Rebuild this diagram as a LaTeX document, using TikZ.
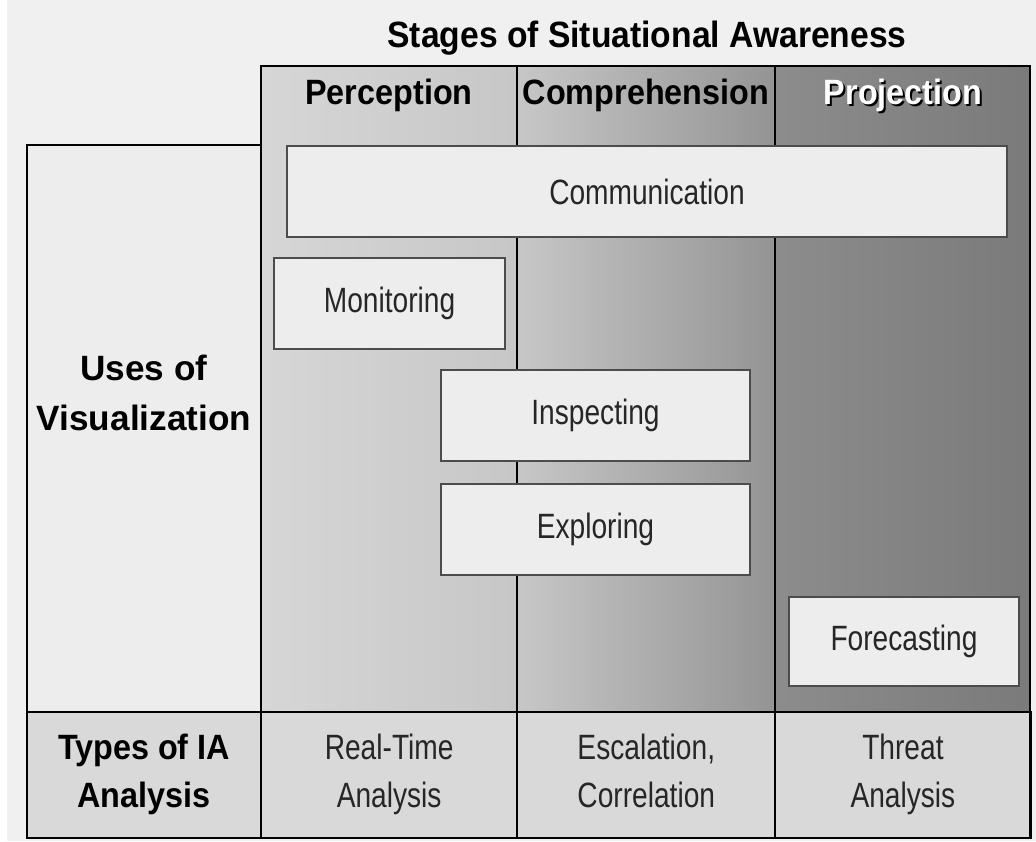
\documentclass[tikz,border=0pt]{standalone}
\usepackage{fontspec}
\setmainfont{Liberation Sans}
\newfontfamily\headfont[FakeStretch=0.92]{Liberation Sans}
\newfontfamily\narrowfont[FakeStretch=0.8]{Liberation Sans}
\usepackage{tikz}
\usetikzlibrary{positioning}

\begin{document}
\begin{tikzpicture}[
  x=0.01cm,y=-0.01cm,
  colbox/.style={rectangle,inner sep=0pt,outer sep=0pt,minimum height=6.46cm},
  usebox/.style={rectangle,draw=black!70,fill=black!7,line width=0.5pt,minimum height=0.91cm,
    text=black!85,font=\narrowfont\fontsize{10}{13}\selectfont},
  cell/.style={rectangle,draw,line width=0.6pt,inner sep=0pt,outer sep=0pt,fill=black!15,
    align=center,minimum height=1.26cm,text height=20.6pt,text depth=2.4pt,
    text=black!85,font=\narrowfont\fontsize{10}{13.4}\selectfont},
  head/.style={align=center,font=\headfont\bfseries\fontsize{10}{13.4}\selectfont}]

  \useasboundingbox (0,0) rectangle (1036,841);
  \fill[white] (0,0) rectangle (1036,841);
  \fill[black!6] (7,0) rectangle (1036,841);

  % stage columns
  \node[colbox,minimum width=2.56cm,left color=black!16,right color=black!22] (perc) at (389,389) {};
  \node[colbox,minimum width=2.58cm,left color=black!22,right color=black!42] (comp) at (646,389) {};
  \node[colbox,minimum width=2.55cm,left color=black!45,right color=black!52] (proj) at (902.5,389) {};
  \draw[line width=0.6pt] (perc.north west) rectangle (proj.south east);
  \draw[line width=0.6pt] (perc.north east) -- (perc.south east);
  \draw[line width=0.6pt] (comp.north east) -- (comp.south east);

  \node[head,font=\headfont\bfseries\fontsize{10.4}{13.4}\selectfont] (title) at (647,38) {Stages of Situational Awareness};
  \node[head] (perclabel) at (389,95) {Perception};
  \node[head] (complabel) at (646,95) {Comprehension};
  \node[head,text=black] (projshadow) at (905,97) {Projection};
  \node[head,text=white] (projlabel) at (903,95) {Projection};

  % uses of visualization
  \node[cell,fill=black!7,minimum width=2.34cm,minimum height=5.67cm] (uses) at (144,428.5) {};
  \node[align=center,font=\bfseries\fontsize{10}{14.2}\selectfont] (useslabel) at (144,393) {Uses of\\Visualization};

  \node[usebox,minimum width=7.2cm] (comm) at (647,191.5) {Communication};
  \node[usebox,minimum width=2.31cm] (mon) at (389.5,303.5) {Monitoring};
  \node[usebox,minimum width=3.09cm] (insp) at (595.5,415.5) {Inspecting};
  \node[usebox,minimum width=3.09cm] (expl) at (595.5,529.5) {Exploring};
  \node[usebox,minimum width=2.3cm,minimum height=0.89cm] (fore) at (904,641.5) {Forecasting};

  % types of analysis
  \node[cell,minimum width=2.34cm,text=black,font=\headfont\bfseries\fontsize{10}{13.4}\selectfont] (types) at (144,775) {Types of IA\\Analysis};
  \node[cell,minimum width=2.56cm,right=0pt of types] (realtime) {Real-Time\\Analysis};
  \node[cell,minimum width=2.58cm,right=0pt of realtime] (escal) {Escalation,\\Correlation};
  \node[cell,minimum width=2.55cm,right=0pt of escal] (threat) {Threat\\Analysis};
\end{tikzpicture}
\end{document}
